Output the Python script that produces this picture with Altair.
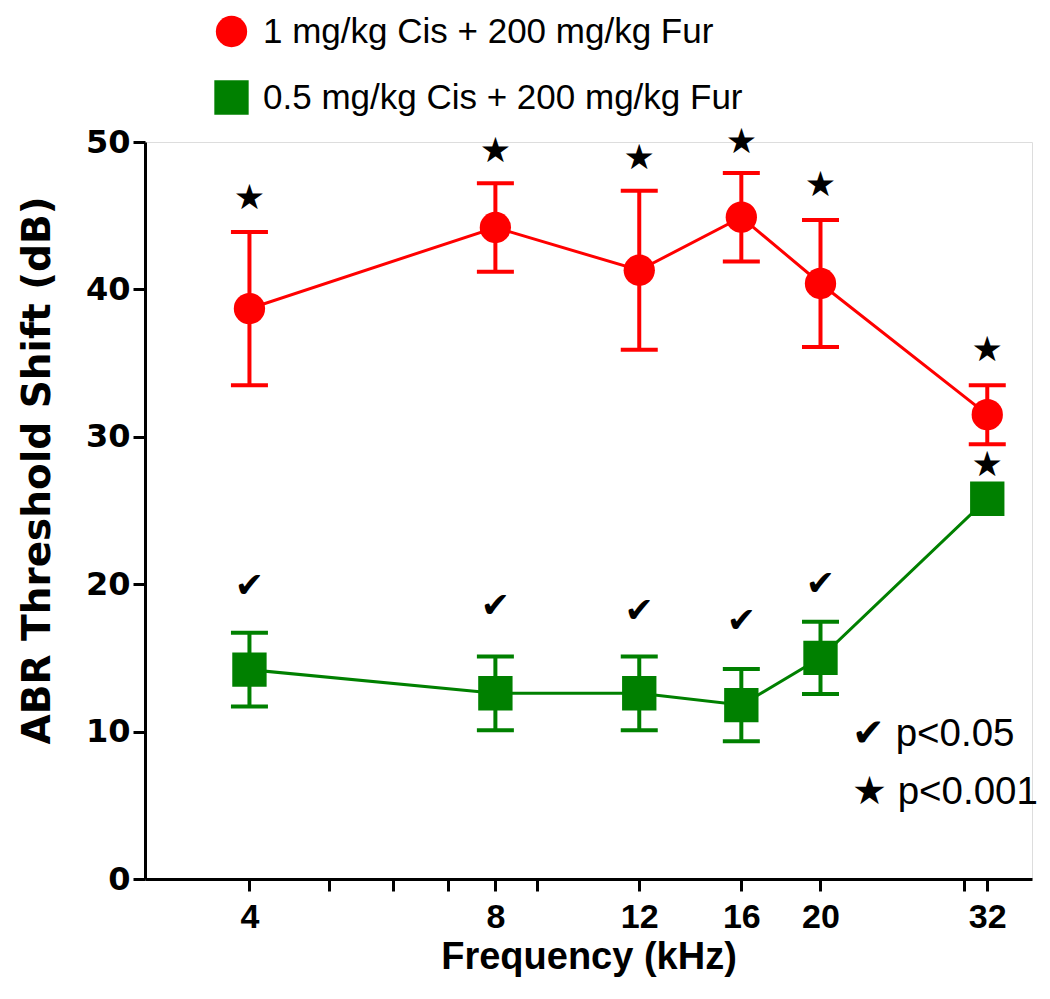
import altair as alt
import pandas as pd

# ---- data ----
freq = [4, 8, 12, 16, 20, 32]
series_names = ["1 mg/kg Cis + 200 mg/kg Fur", "0.5 mg/kg Cis + 200 mg/kg Fur"]
red_mean = [38.7, 44.2, 41.3, 44.9, 40.4, 31.5]
red_err = [5.2, 3.0, 5.4, 3.0, 4.3, 2.0]
green_mean = [14.2, 12.6, 12.6, 11.8, 15.0, 25.8]
green_err = [2.5, 2.5, 2.5, 2.45, 2.45, 0.3]

# significance markers (position in dB above each point)
star_freq = [4, 8, 12, 16, 20, 32, 32]
star_y = [46.2, 49.4, 48.9, 50.0, 47.1, 35.9, 28.1]
check_freq = [4, 8, 12, 16, 20]
check_y = [19.9, 18.5, 18.2, 17.5, 20.0]

x_tick_values = [4, 5, 6, 7, 8, 9, 12, 16, 20, 30, 32]
x_label_values = [4, 8, 12, 16, 20, 32]
y_tick_values = [0, 10, 20, 30, 40, 50]

rows = []
for s, means, errs in [(series_names[0], red_mean, red_err), (series_names[1], green_mean, green_err)]:
    for f, m, e in zip(freq, means, errs):
        rows.append({"freq": f, "series": s, "mean": m, "lo": m - e, "hi": m + e})
df = pd.DataFrame(rows)

ann = pd.DataFrame(
    [{"freq": f, "y": y, "glyph": "★"} for f, y in zip(star_freq, star_y)]
    + [{"freq": f, "y": y, "glyph": "✔"} for f, y in zip(check_freq, check_y)]
)

color_scale = alt.Scale(domain=series_names, range=["#ff0000", "#008000"])
shape_scale = alt.Scale(domain=series_names, range=["circle", "square"])
size_scale = alt.Scale(domain=series_names, range=[980, 1180])

legend = alt.Legend(
    title=None,
    orient="none",
    legendX=69,
    legendY=-128,
    direction="vertical",
    symbolSize=1000,
    symbolStrokeWidth=0,
    labelFont="Liberation Sans",
    labelFontSize=35,
    labelColor="black",
    labelOffset=14,
    rowPadding=30,
    padding=0,
    labelLimit=800,
)
color_enc = alt.Color("series:N", scale=color_scale, legend=legend)

labels_js = "[" + ",".join(str(v) for v in x_label_values) + "]"
x_enc = alt.X(
    "freq:Q",
    scale=alt.Scale(type="log", base=2, domain=[2.98, 36.3], nice=False),
    axis=alt.Axis(
        values=x_tick_values,
        labelExpr=f"indexof({labels_js}, datum.value) >= 0 ? datum.value + '' : ''",
        title="Frequency (kHz)",
        titleFont="Liberation Sans", titleFontSize=38, titleFontWeight="bold", titlePadding=4,
        labelFont="Liberation Sans", labelFontSize=34, labelFontWeight="bold", labelPadding=9,
        labelColor="black", titleColor="black",
        domainColor="black", domainWidth=3, tickColor="black", tickWidth=3, tickSize=12,
        grid=False, labelFlush=False, labelOverlap=False,
    ),
)
y_axis = alt.Axis(
    values=y_tick_values,
    title="ABR Threshold Shift (dB)",
    titleFont="DejaVu Sans", titleFontSize=39, titleFontWeight="bold", titlePadding=28,
    titleY=328,
    labelFont="DejaVu Sans", labelFontSize=32, labelFontWeight="bold", labelPadding=3,
    labelColor="black", titleColor="black",
    domainColor="black", domainWidth=3, tickColor="black", tickWidth=3, tickSize=12,
    grid=False,
)
y_scale = alt.Scale(domain=[0, 50], nice=False, zero=True)

base = alt.Chart(df)

line = base.mark_line(strokeWidth=3).encode(
    x=x_enc,
    y=alt.Y("mean:Q", scale=y_scale, axis=y_axis),
    color=color_enc,
    detail="series:N",
)

rule = base.mark_rule(strokeWidth=4).encode(
    x="freq:Q", y="lo:Q", y2="hi:Q", color=color_enc
)

caps = base.transform_filter("datum.hi - datum.lo > 1")
cap_lo = caps.mark_tick(orient="horizontal", size=37, thickness=4, opacity=1).encode(
    x="freq:Q", y="lo:Q", color=color_enc
)
cap_hi = caps.mark_tick(orient="horizontal", size=37, thickness=4, opacity=1).encode(
    x="freq:Q", y="hi:Q", color=color_enc
)

points = base.mark_point(filled=True, opacity=1).encode(
    x="freq:Q",
    y="mean:Q",
    color=color_enc,
    shape=alt.Shape("series:N", scale=shape_scale, legend=legend),
    size=alt.Size("series:N", scale=size_scale, legend=None),
)

marks = alt.Chart(ann).mark_text(
    font="DejaVu Sans", fontSize=35, baseline="middle", align="center", color="black"
).encode(x="freq:Q", y="y:Q", text="glyph:N")

key1 = alt.Chart(pd.DataFrame({"t": ["✔ p<0.05"]})).mark_text(
    font="Liberation Sans", fontSize=38.5, align="left", baseline="middle", color="black"
).encode(x=alt.value(707), y=alt.value(592), text="t:N")
key2 = alt.Chart(pd.DataFrame({"t": ["★ p<0.001"]})).mark_text(
    font="Liberation Sans", fontSize=38.5, align="left", baseline="middle", color="black"
).encode(x=alt.value(707), y=alt.value(650), text="t:N")

chart = (
    alt.layer(line, rule, cap_lo, cap_hi, points, marks, key1, key2)
    .properties(
        width=887,
        height=737,
        padding={"left": 137, "top": 134, "right": 10, "bottom": 110},
        autosize=alt.AutoSizeParams(type="none"),
    )
    .configure_view(stroke=None)
    .configure(background="white")
)

chart.save("out.html", embed_options={"renderer": "svg", "actions": False})
